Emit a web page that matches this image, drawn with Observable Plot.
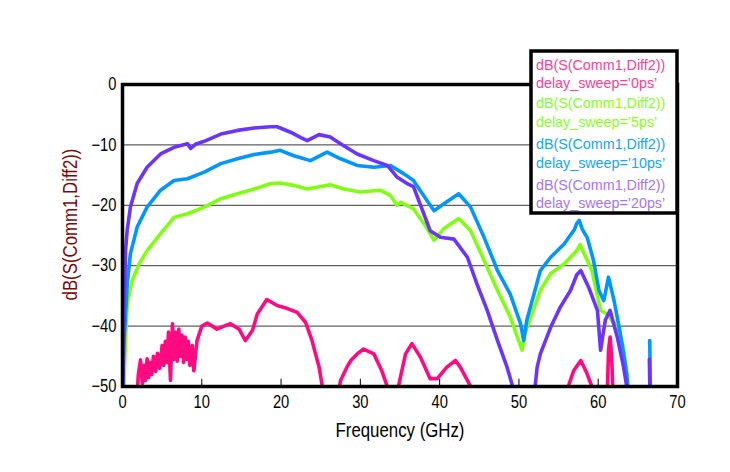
<!DOCTYPE html>
<html>
<head>
<meta charset="utf-8">
<script src="https://cdn.jsdelivr.net/npm/d3@7"></script>
<script src="https://cdn.jsdelivr.net/npm/@observablehq/plot@0.6"></script>
<style>
  body { margin: 0; background: #fff; }
  #chart { position: relative; width: 730px; height: 472px; }
</style>
</head>
<body>
<div id="chart"></div>
<script>
// ---- data ----
const seriesNames = ["0ps", "5ps", "10ps", "20ps"];
const seriesColors = ["#ff0a80", "#80ff10", "#0096ff", "#6a35ff"];
const legendColors = ["#ff3d96", "#86ff1e", "#12a6ff", "#a574ff"];
const legendLines = ["dB(S(Comm1,Diff2))", "delay_sweep="];
const xTicks = [0, 10, 20, 30, 40, 50, 60, 70];
const yTicks = [0, -10, -20, -30, -40, -50];
const xTitle = "Frequency (GHz)";
const yTitle = "dB(S(Comm1,Diff2))";

// [frequency GHz, dB]; values below -50 fall outside the visible frame
const s0ps = [
  [1.77,-53],[2.0,-48],[2.27,-45.6],[2.5,-49.5],[2.7,-46.5],[2.9,-49],[3.1,-45.4],[3.3,-48.5],
  [3.5,-46],[3.7,-48],[3.9,-45],[4.2,-47.5],[4.4,-44.5],[4.7,-47],[5.0,-43.2],[5.2,-46.5],
  [5.4,-42.5],[5.6,-46],[5.8,-41],[6.05,-49],[6.3,-39.6],[6.5,-45.5],[6.7,-41],[6.9,-45.8],
  [7.1,-40.5],[7.3,-45],[7.5,-41.5],[7.7,-46],[7.9,-41.8],[8.1,-45.5],[8.3,-42.5],[8.5,-46.5],
  [8.8,-43.2],[9.0,-47.4],[9.4,-42.4],[10.0,-40],[10.7,-39.5],
  [11.9,-40.5],[13.6,-39.6],[14.7,-40.5],[15.5,-42.4],[16.4,-40.7],[17.0,-38],[18.2,-35.6],
  [19.5,-36.6],[20.8,-37.1],[22.0,-37.7],[23.1,-39.4],[23.9,-42.4],[24.8,-46.8],[25.2,-50],
  [25.4,-53],[27.0,-53],[27.5,-49],[28.3,-46.8],[28.8,-45.7],[29.6,-44.6],[30.4,-43.8],
  [31.7,-44.6],[32.7,-47.4],[33.4,-50],[33.6,-53],[34.6,-53],[34.8,-50],[35.7,-44.6],
  [36.5,-42.9],[37.6,-45.2],[38.8,-48.7],[39.7,-48.7],[40.9,-46.8],[42.0,-45.7],[42.6,-46.8],
  [43.5,-49],[43.9,-50],[44.1,-53],[56.0,-53],[56.3,-49.7],[56.9,-47.4],[57.8,-45.7],
  [58.6,-47.9],[59.2,-50],[59.4,-53],[61.1,-53],[61.3,-44],[61.5,-41.8],[61.7,-45],[61.9,-53]
];
const s5ps = [
  [0.1,-53],[0.38,-42],[0.6,-36.3],[1.2,-32.5],[2.1,-29.7],[3.1,-27.5],[4.8,-24.7],[6.5,-22],
  [8.2,-21.4],[10.3,-20.3],[12.4,-18.9],[14.5,-18.1],[16.6,-17.3],[18.7,-16.4],[19.9,-16.3],
  [21.6,-16.7],[23.3,-17.3],[26.2,-16.6],[27.9,-17.3],[30.0,-17.8],[32.5,-17.5],[33.8,-18.4],
  [34.6,-20],[35.1,-19.5],[36.7,-20.6],[38.0,-23],[39.3,-25.8],[40.5,-23.9],[42.4,-22.2],
  [43.9,-24.2],[45.6,-29.1],[47.3,-34.1],[48.9,-38.5],[50.4,-44],[50.8,-41],[51.5,-38.5],
  [52.7,-34.1],[54.0,-31.3],[55.7,-29.7],[57.3,-27.5],[57.7,-26.5],[58.6,-29.1],[59.2,-30.8],
  [60.3,-37.4],[61.1,-38],[62.4,-40.2],[63.2,-43.5],[63.6,-48],[63.8,-53]
];
const s10ps = [
  [0,-53],[0.17,-42.9],[0.6,-33],[1.0,-28],[1.85,-23.6],[3.1,-20.3],[4.8,-17.5],[6.5,-15.9],
  [8.2,-15.6],[10.3,-14.5],[12.4,-13.1],[14.5,-12.3],[16.6,-11.6],[18.7,-11.2],[19.9,-10.9],
  [21.6,-11.8],[23.7,-12.6],[25.8,-11.2],[27.5,-12.3],[29.6,-13.4],[31.7,-13.7],[33.8,-13.4],
  [35.5,-14.8],[36.7,-15.9],[38.4,-19.2],[39.3,-20.9],[40.5,-19.8],[42.4,-18.1],[43.9,-20.3],
  [45.6,-25.3],[47.3,-30.8],[48.9,-34.7],[50.2,-39.6],[50.6,-42.4],[51.0,-39],[51.9,-34.7],
  [52.7,-30.8],[54.0,-28.6],[55.7,-26.4],[57.0,-24],[57.3,-23],[57.6,-22.5],[58.0,-24],
  [58.6,-25.3],[59.4,-29.1],[60.1,-34.1],[60.7,-35.8],[61.3,-31.9],[62.0,-35.8],[62.8,-41.3],
  [63.6,-47.9],[63.9,-53],[65.0,NaN],[66.5,-42.4],[66.6,-53]
];
const s20ps = [
  [0,-53],[0.2,-38],[0.38,-27.5],[0.6,-24],[1.0,-20.3],[1.85,-16.4],[3.1,-13.7],[4.8,-11.5],
  [6.5,-10.4],[8.2,-9.8],[8.6,-10.6],[9.2,-9.9],[10.3,-9.4],[12.4,-8.2],[14.5,-7.6],[16.6,-7.2],
  [18.7,-7.0],[19.5,-7.0],[21.2,-7.9],[22.5,-8.8],[23.3,-9.3],[24.8,-8.3],[26.2,-8.7],
  [27.5,-9.8],[29.6,-11.5],[31.7,-12.6],[33.4,-13.4],[34.6,-15.3],[35.9,-16.4],[36.7,-16.9],
  [38.0,-21.4],[38.8,-24.2],[40.1,-25.3],[41.8,-25.6],[43.5,-28.6],[44.7,-33],[46.0,-37.4],
  [47.3,-42.4],[48.5,-46.8],[49.1,-49.5],[49.6,-53],[51.8,-53],[52.3,-46.8],[52.7,-44.6],
  [54.0,-40.2],[55.2,-36.9],[56.5,-34.1],[57.3,-31.5],[57.8,-30.8],[58.8,-33.6],[59.9,-37.4],
  [60.3,-44],[60.9,-39],[61.5,-37.4],[62.4,-41.8],[63.2,-46.8],[63.6,-50],[63.8,-53],
  [65.0,NaN],[66.45,-45.5],[66.55,-53]
];
const seriesValues = [s0ps, s5ps, s10ps, s20ps];

// ---- build table ----
const rows = seriesValues.map((arr, i) =>
  arr.map(([f, db]) => ({ series: seriesNames[i], f, db })));

const axisFont = '"Liberation Sans", Arial, sans-serif';

const plot = Plot.plot({
  width: 730,
  height: 472,
  marginLeft: 122,
  marginRight: 53,
  marginTop: 84,
  marginBottom: 86,
  x: { domain: [0, 70] },
  y: { domain: [-50, 0] },
  color: { domain: seriesNames, range: seriesColors },
  style: `font-family: ${axisFont}; font-size: 18px; color: #000; background: #fff;`,
  marks: [
    Plot.ruleY(yTicks.slice(1, -1), { y: d => d, stroke: "#3a3a3a", strokeWidth: 1 }),
    Plot.ruleX(xTicks.slice(1, -1), { x: d => d, y1: -50, y2: -48.8, stroke: "#000", strokeWidth: 1 }),
    ...rows.map(r => Plot.line(r, {
      x: "f", y: "db", stroke: "series", strokeWidth: 3.6, clip: true,
      strokeLinejoin: "round", strokeLinecap: "round"
    })),
    Plot.frame({ stroke: "#000", strokeWidth: 3.5 }),
    Plot.axisX({ ticks: xTicks, tickSize: 0, tickPadding: 9, label: null }),
    Plot.axisY({ ticks: yTicks, tickSize: 0, tickPadding: 6, label: null }),
    Plot.axisY({ ticks: [], tickSize: 0, label: yTitle, labelAnchor: "center", labelOffset: 60,
                 labelArrow: "none", color: "#7a0a0a", fontSize: 20.5 }),
    Plot.text([xTitle], { frameAnchor: "bottom", dy: 44, text: d => d, fontSize: 20.5, fill: "#000", lineAnchor: "middle" })
  ]
});

// ---- legend box (top right, overlapping the frame) ----
const svg = d3.select(plot);
const lg = svg.append("g")
  .attr("font-family", '"Liberation Sans", Arial, sans-serif')
  .attr("font-size", "14.3px")
  .attr("text-anchor", "start");
lg.append("rect").attr("x", 531).attr("y", 51).attr("width", 146).attr("height", 162)
  .attr("fill", "#fff").attr("stroke", "#000").attr("stroke-width", 3.5);
const baselines = [[70, 88], [108, 127], [149, 168], [190, 208]];
seriesNames.forEach((name, i) => {
  lg.append("text").attr("x", 536).attr("y", baselines[i][0]).attr("fill", legendColors[i])
    .text(legendLines[0]);
  lg.append("text").attr("x", 536).attr("y", baselines[i][1]).attr("fill", legendColors[i])
    .text(legendLines[1] + "\u2019" + name + "\u2019");
});

document.getElementById("chart").appendChild(plot);

// narrow the axis typography (the reference uses a condensed face)
svg.selectAll("g[aria-label$='tick label'] text, g[aria-label$='axis label'] text, g[aria-label='text'] text")
  .each(function () {
    const len = this.getComputedTextLength();
    if (len > 0) {
      this.setAttribute("textLength", (len * 0.82).toFixed(1));
      this.setAttribute("lengthAdjust", "spacingAndGlyphs");
    }
  });
// the reference's y title sits slightly above the frame's middle
svg.selectAll("g[aria-label='y-axis label']").each(function () {
  const t = this.getAttribute("transform") || "";
  this.setAttribute("transform", (t + " translate(0,-11)").trim());
});
</script>
</body>
</html>
